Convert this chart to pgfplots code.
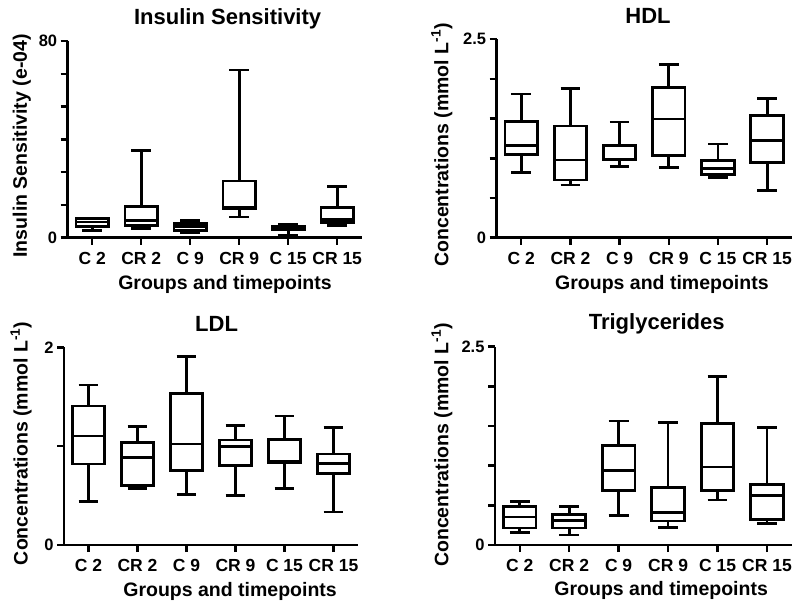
\documentclass[border=0pt]{standalone}
\usepackage{fontspec}
\setmainfont{Liberation Sans}
\usepackage{pgfplots}
\pgfplotsset{compat=1.18}
\usepgfplotslibrary{statistics}

\pgfplotsset{
  bx/.style={black, line width=2.8pt, solid},
  panel/.style={
    scale only axis,
    width=294pt, height=197pt,
    axis x line*=bottom, axis y line*=left,
    axis line style={black, line width=2.6pt},
    every tick/.style={black, line width=2.4pt},
    tick align=outside,
    major tick length=7pt,
    xmin=-0.5, xmax=5.5, ymin=0,
    enlargelimits=false,
    clip=false,
    xtick={0,1,2,3,4,5},
    xticklabels={C 2, CR 2, C 9, CR 9, C 15, CR 15},
    xticklabel shift=4pt,
    xticklabel style={font=\fontsize{17.5}{20}\selectfont\bfseries},
    yticklabel style={font=\fontsize{16.5}{19}\selectfont\bfseries},
    label style={font=\fontsize{19.5}{22}\selectfont\bfseries},
    title style={font=\fontsize{22}{25}\selectfont\bfseries},
    xlabel={Groups and timepoints},
    boxplot/draw direction=y,
    boxplot/box extend=0.66,
    boxplot/whisker extend=0.4,
  },
}
\newcommand\bp[6]{\addplot[bx, boxplot prepared={draw position=#1, lower whisker=#2, lower quartile=#3, median=#4, upper quartile=#5, upper whisker=#6}] coordinates {};}

\begin{document}
\begin{tikzpicture}[x=1pt,y=1pt]
\path[use as bounding box] (0,0) rectangle (800,608);

% Insulin Sensitivity
\begin{axis}[panel, at={(67.7pt,370.3pt)}, anchor=south west,
  width=294pt, height=196.7pt,
  ymax=80, ytick={0,13.333,26.667,40,53.333,66.667,80}, yticklabels={0,,,,,,80},
  title={Insulin Sensitivity},
  title style={at={(axis description cs:0.544,1)}, anchor=base, yshift=11pt},
  xlabel style={at={(axis description cs:0.535,0)}, anchor=base, yshift=-52pt},
  ylabel={Insulin Sensitivity (e-04)},
  ylabel style={at={(axis description cs:-0.156,0.467)}, anchor=center},
]
\bp{0}{3.0}{4.6}{6.4}{7.7}{8.0}
\bp{1}{3.8}{4.8}{7.1}{12.6}{35.4}
\bp{2}{2.0}{3.0}{4.4}{5.9}{7.1}
\bp{3}{8.4}{12.0}{12.3}{23.1}{68.2}
\bp{4}{0.8}{3.3}{4.0}{4.5}{5.4}
\bp{5}{4.8}{6.1}{7.5}{12.2}{20.7}
\end{axis}

% HDL
\begin{axis}[panel, at={(496.7pt,370.3pt)}, anchor=south west,
  width=295pt, height=198.4pt,
  ymax=2.5, ytick={0,0.5,1,1.5,2,2.5}, yticklabels={0,,,,,2.5},
  title={HDL},
  title style={at={(axis description cs:0.513,1)}, anchor=base, yshift=10pt},
  xlabel style={at={(axis description cs:0.56,0)}, anchor=base, yshift=-52pt},
  ylabel={Concentrations (mmol L\textsuperscript{-1})},
  ylabel style={at={(axis description cs:-0.186,0.467)}, anchor=center},
]
\bp{0}{0.819}{1.045}{1.157}{1.466}{1.811}
\bp{1}{0.664}{0.727}{0.979}{1.408}{1.882}
\bp{2}{0.895}{0.979}{0.987}{1.160}{1.458}
\bp{3}{0.882}{1.034}{1.496}{1.895}{2.185}
\bp{4}{0.761}{0.798}{0.870}{0.971}{1.181}
\bp{5}{0.592}{0.950}{1.223}{1.538}{1.756}
\end{axis}

% LDL
\begin{axis}[panel, at={(64pt,63pt)}, anchor=south west,
  width=294pt, height=197.7pt,
  ymax=2, ytick={0,1,2}, yticklabels={0,,2},
  title={LDL},
  title style={at={(axis description cs:0.519,1)}, anchor=base, yshift=10pt},
  xlabel style={at={(axis description cs:0.565,0)}, anchor=base, yshift=-51pt},
  ylabel={Concentrations (mmol L\textsuperscript{-1})},
  ylabel style={at={(axis description cs:-0.146,0.514)}, anchor=center},
]
\bp{0}{0.438}{0.820}{1.103}{1.406}{1.619}
\bp{1}{0.573}{0.604}{0.887}{1.039}{1.201}
\bp{2}{0.513}{0.752}{1.022}{1.535}{1.906}
\bp{3}{0.499}{0.803}{0.995}{1.062}{1.207}
\bp{4}{0.570}{0.833}{0.847}{1.066}{1.305}
\bp{5}{0.334}{0.722}{0.826}{0.921}{1.191}
\end{axis}

% Triglycerides
\begin{axis}[panel, at={(495pt,63pt)}, anchor=south west,
  width=296.7pt, height=198.3pt,
  ymax=2.5, ytick={0,0.5,1,1.5,2,2.5}, yticklabels={0,,,,,2.5},
  title={Triglycerides},
  title style={at={(axis description cs:0.545,1)}, anchor=base, yshift=11pt},
  xlabel style={at={(axis description cs:0.56,0)}, anchor=base, yshift=-50pt},
  ylabel={Concentrations (mmol L\textsuperscript{-1})},
  ylabel style={at={(axis description cs:-0.179,0.504)}, anchor=center},
]
\bp{0}{0.160}{0.214}{0.353}{0.483}{0.546}
\bp{1}{0.126}{0.214}{0.307}{0.387}{0.483}
\bp{2}{0.370}{0.685}{0.941}{1.252}{1.563}
\bp{3}{0.223}{0.303}{0.412}{0.727}{1.542}
\bp{4}{0.567}{0.689}{0.983}{1.529}{2.122}
\bp{5}{0.273}{0.324}{0.626}{0.765}{1.479}
\end{axis}
\end{tikzpicture}
\end{document}
